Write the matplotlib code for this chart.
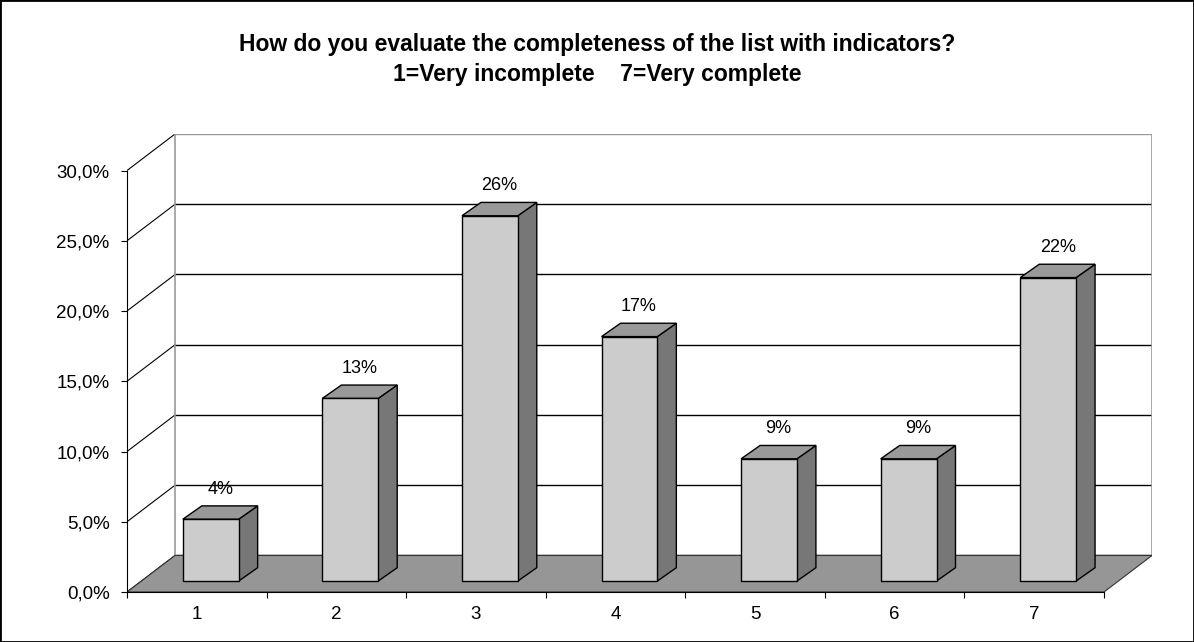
import matplotlib
matplotlib.use('Agg')
import matplotlib.pyplot as plt
from matplotlib.patches import Polygon, Rectangle

categories = ['1', '2', '3', '4', '5', '6', '7']
values = [4.4, 13.0, 26.0, 17.4, 8.7, 8.7, 21.6]
value_labels = ['4%', '13%', '26%', '17%', '9%', '9%', '22%']
y_ticks = [0, 5, 10, 15, 20, 25, 30]

plt.rcParams['font.family'] = ['Liberation Sans', 'DejaVu Sans']

# fake 3d: depth of the box and of the bars, in data units
DX, DY = 0.344, 2.6
OX, OY = 0.10, 0.78
BW = 0.40
BDX, BDY = 0.136, 0.95

fig = plt.figure(figsize=(11.94, 6.42), dpi=100)
ax = fig.add_axes([127 / 1194, 50 / 642, 1025 / 1194, 458 / 642])
n = len(categories)
ax.set_xlim(0, n + DX)
ax.set_ylim(0, y_ticks[-1] + DY)

wall = '#999999'
for t in y_ticks:
    c = wall if t == y_ticks[-1] else 'black'
    ax.plot([DX, n + DX], [t + DY, t + DY], color=c, lw=1, zorder=1)
    ax.plot([0, DX], [t, t + DY], color='black', lw=0.8, zorder=1)
ax.plot([DX, DX], [DY, y_ticks[-1] + DY], color=wall, lw=1.2, zorder=1)
ax.plot([n + DX, n + DX], [DY, y_ticks[-1] + DY], color=wall, lw=1.2, zorder=1)

floor = Polygon([(0, 0), (n, 0), (n + DX, DY), (DX, DY)],
                facecolor='#969696', edgecolor='#333333', lw=0.8, zorder=2)
ax.add_patch(floor)

for i, v in enumerate(values):
    x0 = i + 0.5 - BW / 2 + OX
    x1 = x0 + BW
    top = OY + v
    front = [(x0, OY), (x1, OY), (x1, top), (x0, top)]
    lid = [(x0, top), (x1, top), (x1 + BDX, top + BDY), (x0 + BDX, top + BDY)]
    side = [(x1, OY), (x1 + BDX, OY + BDY), (x1 + BDX, top + BDY), (x1, top)]
    ax.add_patch(Polygon(side, facecolor='#777777', edgecolor='black', lw=1, zorder=3))
    ax.add_patch(Polygon(lid, facecolor='#999999', edgecolor='black', lw=1, zorder=3))
    ax.add_patch(Polygon(front, facecolor='#cccccc', edgecolor='black', lw=1, zorder=3))
    ax.annotate(value_labels[i], (i + 0.5 + OX + BDX / 2, top + BDY),
                xytext=(0, 6), textcoords='offset points',
                ha='center', va='bottom', fontsize=13)

for s in ['top', 'right']:
    ax.spines[s].set_visible(False)
ax.spines['left'].set_bounds(0, y_ticks[-1])
ax.spines['bottom'].set_bounds(0, n)
ax.spines['left'].set_zorder(4)
ax.spines['bottom'].set_zorder(4)

ax.set_yticks(y_ticks)
ax.set_yticklabels([f'{t:.1f}'.replace('.', ',') + '%' for t in y_ticks])
ax.tick_params(axis='y', length=4.5, pad=8, labelsize=13.5)

ax.set_xticks(range(n + 1))
ax.set_xticklabels([])
ax.set_xticks([i + 0.5 for i in range(n)], minor=True)
ax.set_xticklabels(categories, minor=True)
ax.tick_params(axis='x', which='major', length=4.5)
ax.tick_params(axis='x', which='minor', length=0, pad=10, labelsize=13.5)

fig.text(0.5, 1 - 45 / 642, 'How do you evaluate the completeness of the list with indicators?',
         ha='center', va='center', fontsize=16.5, fontweight='bold')
fig.text(0.5, 1 - 75 / 642, '1=Very incomplete    7=Very complete',
         ha='center', va='center', fontsize=16.5, fontweight='bold')

fig.add_artist(Rectangle((0, 0), 1, 1, transform=fig.transFigure,
                         fill=False, edgecolor='black', lw=2))

fig.savefig('out.png', dpi=100)
